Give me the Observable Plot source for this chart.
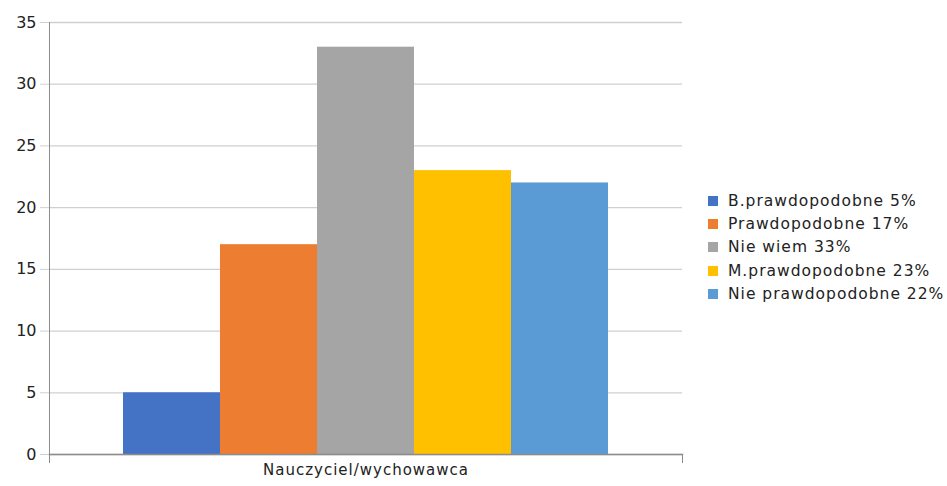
<!DOCTYPE html>
<html><head><meta charset="utf-8">
<script src="https://cdn.jsdelivr.net/npm/d3@7"></script>
<script src="https://cdn.jsdelivr.net/npm/@observablehq/plot@0.6"></script>
<style>
body{margin:0;background:#fff;font-family:"DejaVu Sans",sans-serif;}
#wrap{position:relative;width:947px;height:486px;}
#legend{position:absolute;left:708px;top:189px;font-size:15.5px;letter-spacing:1px;color:#222;}
.row{display:flex;align-items:center;height:23.3px;white-space:nowrap;}
.sw{width:10px;height:10px;margin-right:10px;}
</style></head>
<body><div id="wrap"><div id="legend"></div></div>
<script>
const category = ["Nauczyciel/wychowawca"];
const series = ["B.prawdopodobne 5%", "Prawdopodobne 17%", "Nie wiem 33%", "M.prawdopodobne 23%", "Nie prawdopodobne 22%"];
const values = [5, 17, 33, 23, 22];
const colors = ["#4472C4", "#ED7D31", "#A5A5A5", "#FFC000", "#5B9BD5"];
const yTicks = [0, 5, 10, 15, 20, 25, 30, 35];

const data = series.map((s, i) => ({series: s, value: values[i]}));

const chart = Plot.plot({
  width: 947, height: 486,
  marginLeft: 49, marginRight: 265, marginTop: 22, marginBottom: 32,
  style: {fontFamily: "DejaVu Sans, sans-serif", color: "#222", background: "#fff"},
  x: {domain: series, paddingInner: 0, paddingOuter: 0.75, axis: null},
  y: {domain: [0, 35], ticks: yTicks},
  color: {domain: series, range: colors},
  marks: [
    Plot.ruleY(yTicks, {stroke: "#d0d0d0", strokeWidth: 1.3}),
    Plot.axisY({ticks: yTicks, tickSize: 9, tickPadding: 4, stroke: "#d0d0d0", fontSize: 16, label: null, tickFormat: d => d}),
    Plot.barY(data, {x: "series", y: "value", fill: "series"}),
    Plot.frame({anchor: "left", stroke: "#8c8c8c", insetBottom: -8}),
    Plot.frame({anchor: "bottom", stroke: "#8c8c8c", strokeWidth: 1.5}),
    Plot.frame({anchor: "right", stroke: "#8c8c8c", insetBottom: -8, insetTop: 432}),
    Plot.text(category, {text: d => d, frameAnchor: "bottom", dy: 20, fontSize: 15, fill: "#222", style: "letter-spacing:1px"})
  ]
});
document.getElementById("wrap").prepend(chart);
chart.querySelectorAll("text").forEach(t => {
  if (t.textContent === category[0]) t.setAttribute("letter-spacing", "1px");
});

const legend = document.getElementById("legend");
series.forEach((s, i) => {
  const row = document.createElement("div");
  row.className = "row";
  const sw = document.createElement("span");
  sw.className = "sw"; sw.style.background = colors[i];
  const t = document.createElement("span");
  t.textContent = s;
  row.append(sw, t);
  legend.append(row);
});
</script></body></html>
